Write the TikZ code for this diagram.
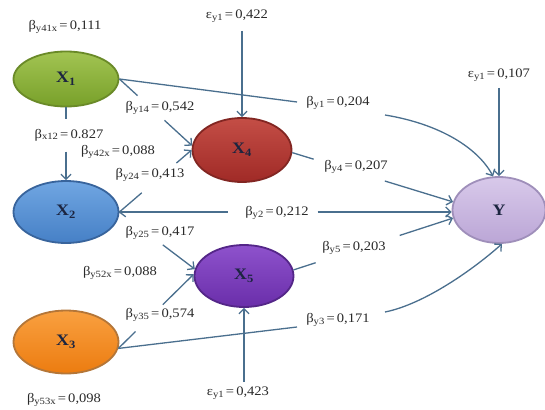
\documentclass[tikz,border=0pt]{standalone}
\usepackage{fontspec}
\setmainfont{Liberation Serif}[FakeStretch=1.12]
\usetikzlibrary{arrows.meta,shapes.geometric}
\definecolor{arrc}{HTML}{4A6F8E}
\definecolor{labc}{HTML}{2A2A2A}
\definecolor{varc}{HTML}{1C2540}
\newcommand\mysub[1]{\raisebox{-0.25ex}{\fontsize{9.5}{10}\selectfont #1}}
\newcommand\mybeta[2]{β\mysub{#1}\,=\,#2}
\newcommand\myeps[2]{ε\mysub{#1}\,=\,#2}
\begin{document}
\begin{tikzpicture}[x=1pt,y=-1pt,
  ln/.style={draw=arrc, line width=1.3pt},
  arr/.style={ln, -{Straight Barb[length=5pt,width=10pt]}},
  lab/.style={inner sep=0pt, text=labc, font=\fontsize{13}{15}\selectfont},
  var/.style={ellipse, inner sep=0pt, line width=1.8pt, text=varc, font=\bfseries\fontsize{16}{18}\selectfont}]
\fill[white] (0,0) rectangle (545,409);
\path[use as bounding box] (0,0) rectangle (545,409);

% variables
\node[var, minimum width=105pt, minimum height=55pt, top color={rgb,255:red,162;green,196;blue,82}, bottom color={rgb,255:red,120;green,160;blue,42}, draw={rgb,255:red,106;green,138;blue,40}] (X1) at (66,79) {X\textsubscript{1}};
\node[var, minimum width=99pt, minimum height=64pt, top color={rgb,255:red,196;green,78;blue,70}, bottom color={rgb,255:red,160;green,42;blue,38}, draw={rgb,255:red,130;green,38;blue,34}] (X4) at (242,150) {X\textsubscript{4}};
\node[var, minimum width=105pt, minimum height=62pt, top color={rgb,255:red,112;green,166;blue,226}, bottom color={rgb,255:red,70;green,128;blue,198}, draw={rgb,255:red,56;green,100;blue,156}] (X2) at (66,212) {X\textsubscript{2}};
\node[var, minimum width=99pt, minimum height=62pt, top color={rgb,255:red,142;green,82;blue,204}, bottom color={rgb,255:red,106;green,46;blue,170}, draw={rgb,255:red,84;green,38;blue,136}] (X5) at (244,276) {X\textsubscript{5}};
\node[var, minimum width=105pt, minimum height=63pt, top color={rgb,255:red,249;green,160;blue,64}, bottom color={rgb,255:red,236;green,124;blue,16}, draw={rgb,255:red,180;green,118;blue,56}] (X3) at (66,342) {X\textsubscript{3}};
\node[var, minimum width=93pt, minimum height=66pt, top color={rgb,255:red,216;green,201;blue,234}, bottom color={rgb,255:red,187;green,166;blue,214}, draw={rgb,255:red,159;green,143;blue,186}] (Y) at (499,210) {Y};

% labels
\node[lab] (b41) at (65,27) {\mybeta{y41x}{0,111}};
\node[lab] (e4) at (237,16) {\myeps{y1}{0,422}};
\node[lab] (b14) at (160,108) {\mybeta{y14}{0,542}};
\node[lab] (b12) at (69,135) {\mybeta{x12}{0.827}};
\node[lab] (b42) at (118,152) {\mybeta{y42x}{0,088}};
\node[lab] (b24) at (150,175) {\mybeta{y24}{0,413}};
\node[lab] (b1) at (338,103) {\mybeta{y1}{0,204}};
\node[lab] (b4) at (356,167) {\mybeta{y4}{0,207}};
\node[lab] (eY) at (499,75) {\myeps{y1}{0,107}};
\node[lab] (b2) at (277,213) {\mybeta{y2}{0,212}};
\node[lab] (b25) at (160,233) {\mybeta{y25}{0,417}};
\node[lab] (b52) at (120,273) {\mybeta{y52x}{0,088}};
\node[lab] (b5) at (354,248) {\mybeta{y5}{0,203}};
\node[lab] (b35) at (160,315) {\mybeta{y35}{0,574}};
\node[lab] (b3) at (338,320) {\mybeta{y3}{0,171}};
\node[lab] (b53) at (64,400) {\mybeta{y53x}{0,098}};
\node[lab] (e5) at (238,393) {\myeps{y1}{0,423}};

% error arrows
\coordinate (e4s) at (242,31);
\coordinate (e5s) at (244,382);
\coordinate (eYs) at (499,88);
\draw[arr] (e4s) -- (X4.north);
\draw[arr] (e5s) -- (X5.south);
\draw[arr] (eYs) -- (Y.north);

% X1 -> X2
\path (X1.south) -- (X2.north) coordinate[pos=0.154] (g12a) coordinate[pos=0.61] (g12b);
\draw[ln] (X1.south) -- (g12a); \draw[arr] (g12b) -- (X2.north);
% X1 -> X4
\path (X1.east) -- (X4.175) coordinate[pos=0.25] (g14a) coordinate[pos=0.62] (g14b);
\draw[ln] (X1.east) -- (g14a); \draw[arr] (g14b) -- (X4.175);
% X2 -> X4
\path (X2.east) -- (X4.west) coordinate[pos=0.31] (g24a) coordinate[pos=0.79] (g24b);
\draw[ln] (X2.east) -- (g24a); \draw[arr] (g24b) -- (X4.west);
% X2 -> X5
\path (X2.east) -- (X5.172) coordinate[pos=0.084] (g25a) coordinate[pos=0.576] (g25b);
\draw[ln] (X2.east) -- (g25a); \draw[arr] (g25b) -- (X5.172);
% X3 -> X5
\path (X3.-7) -- (X5.178) coordinate[pos=0.228] (g35a) coordinate[pos=0.59] (g35b);
\draw[ln] (X3.-7) -- (g35a); \draw[arr] (g35b) -- (X5.178);
% X2 -> Y
\coordinate (Y2) at (X2.east -| Y.west);
\path (X2.east) -- (Y2) coordinate[pos=0.328] (g2a) coordinate[pos=0.597] (g2b);
\draw[ln] (X2.east) -- (g2a); \draw[arr] (g2b) -- (Y2);
% X4 -> Y
\path (X4.-3) -- (Y.170) coordinate[pos=0.133] (g4a) coordinate[pos=0.576] (g4b);
\draw[ln] (X4.-3) -- (g4a); \draw[arr] (g4b) -- (Y.170);
% X5 -> Y
\path (X5.7) -- (Y.190) coordinate[pos=0.139] (g5a) coordinate[pos=0.666] (g5b);
\draw[ln] (X5.7) -- (g5a); \draw[arr] (g5b) -- (Y.190);
% X1 -> Y
\coordinate (g1a) at (297,102);
\coordinate (g1b) at (385,115);
\draw[ln] (X1.east) -- (g1a);
\draw[arr] (g1b) .. controls (440,124) and (478,148) .. (Y.100);
% X3 -> Y
\coordinate (g3a) at (297,327);
\coordinate (g3b) at (385,312);
\draw[ln] (X3.-7) -- (g3a);
\draw[arr] (g3b) .. controls (425,304) and (475,268) .. (Y.275);
\end{tikzpicture}
\end{document}
